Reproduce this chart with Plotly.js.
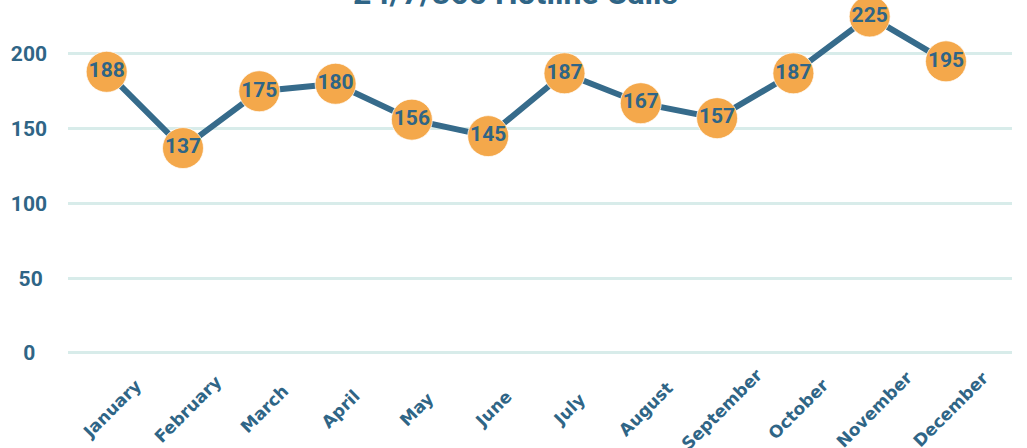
<!DOCTYPE html>
<html>
<head>
<meta charset="utf-8">
<script src="https://cdn.plot.ly/plotly-3.0.1.min.js"></script>
<style>
  html, body { margin: 0; padding: 0; background: #fff; }
  #chart { width: 1027px; height: 448px; }
</style>
</head>
<body>
<div id="chart"></div>
<script>
const months = ["January", "February", "March", "April", "May", "June",
                "July", "August", "September", "October", "November", "December"];
const calls = [188, 137, 175, 180, 156, 145, 187, 167, 157, 187, 225, 195];
const yTickVals = [0, 50, 100, 150, 200];
const yTickText = ["0\u2007", "50\u2009", "100", "150", "200"];
const chartTitle = "24/7/365 Hotline Calls";

const ink = "#2f6586";

const trace = {
  type: "scatter",
  mode: "lines+markers+text",
  x: months,
  y: calls,
  text: calls.map(String),
  textposition: "middle center",
  textfont: { family: "Roboto, sans-serif", size: 21, color: ink, weight: 700 },
  line: { color: "#366b8b", width: 6 },
  marker: { size: 41, color: "#f4a84b", line: { color: "rgba(255,255,255,0.7)", width: 1 } },
  cliponaxis: false,
  hoverinfo: "skip"
};

// Month labels: rotated around their centre, like the reference
const monthLabels = months.map(m => ({
  x: m,
  xref: "x",
  y: -0.128,
  yref: "paper",
  text: m,
  showarrow: false,
  textangle: -45,
  xanchor: "center",
  yanchor: "middle",
  xshift: 5,
  font: { family: "DejaVu Sans, sans-serif", size: 17, color: ink, weight: 700 }
}));

const layout = {
  width: 1027,
  height: 448,
  paper_bgcolor: "#ffffff",
  plot_bgcolor: "#ffffff",
  margin: { l: 68, r: 15, t: 3, b: 85 },
  showlegend: false,
  title: {
    text: chartTitle,
    font: { family: "Roboto, sans-serif", size: 32, color: ink, weight: 700 },
    x: 0.502,
    xanchor: "center",
    xref: "container",
    yref: "container",
    y: 0.99,
    yanchor: "bottom"
  },
  annotations: monthLabels,
  xaxis: {
    type: "category",
    range: [-0.507, 11.865],
    showgrid: false,
    zeroline: false,
    showline: false,
    ticks: "",
    showticklabels: false
  },
  yaxis: {
    range: [-6.69, 234],
    tickvals: yTickVals,
    ticktext: yTickText,
    showgrid: true,
    gridcolor: "#d8ecea",
    gridwidth: 3,
    zeroline: false,
    showline: false,
    ticks: "",
    ticklabelstandoff: 20,
    tickfont: { family: "Roboto, sans-serif", size: 21, color: ink, weight: 700 }
  }
};

Plotly.newPlot("chart", [trace], layout, { staticPlot: true, displayModeBar: false });
</script>
</body>
</html>
